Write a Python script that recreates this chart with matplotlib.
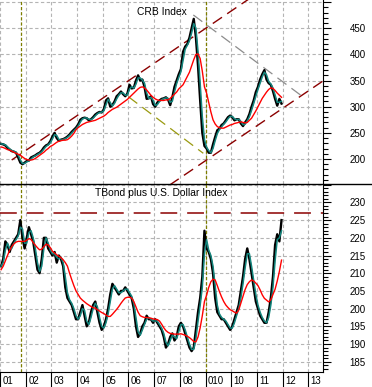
import numpy as np
import pandas as pd
import matplotlib
matplotlib.use("Agg")
import matplotlib.pyplot as plt
import matplotlib.transforms as mtransforms
from matplotlib.lines import Line2D
from matplotlib.ticker import MultipleLocator, FuncFormatter

plt.rcParams['font.family'] = ['Liberation Sans', 'DejaVu Sans']

# monthly values, Jan 2001 .. Dec 2011
start_year = 2001
crb_close = [
    229, 228, 226, 221, 218, 215, 214, 212, 203, 193, 190, 193,
    196, 197, 203, 205, 207, 210, 212, 216, 222, 226, 228, 234,
    243, 250, 240, 235, 237, 238, 240, 243, 247, 252, 256, 260,
    266, 275, 278, 279, 278, 274, 276, 280, 285, 288, 290, 289,
    295, 312, 316, 300, 303, 310, 320, 324, 329, 324, 320, 325,
    342, 335, 336, 350, 360, 350, 352, 338, 315, 316, 320, 305,
    300, 308, 312, 315, 316, 318, 314, 303, 318, 338, 350, 362,
    372, 405, 415, 420, 432, 450, 468, 433, 378, 312, 250, 225,
    220, 212, 212, 228, 242, 255, 258, 265, 268, 274, 280, 283,
    280, 274, 276, 276, 268, 263, 270, 276, 286, 300, 312, 328,
    338, 352, 362, 370, 352, 345, 342, 330, 315, 302, 315, 306,
]
crb_red = [
    223, 222, 220, 218, 217, 215, 213, 211, 209, 207, 204, 201,
    199, 198, 198, 199, 201, 204, 207, 210, 213, 217, 220, 224,
    226, 229, 232, 234, 235, 236, 236, 237, 240, 244, 249, 256,
    260, 263, 266, 268, 270, 271, 272, 273, 274, 276, 278, 280,
    282, 285, 289, 292, 295, 297, 299, 302, 305, 308, 311, 314,
    318, 322, 326, 330, 334, 337, 338, 336, 332, 327, 322, 318,
    315, 313, 312, 312, 312, 313, 313, 316, 320, 324, 328, 334,
    338, 342, 350, 358, 366, 378, 390, 400, 401, 392, 368, 338,
    326, 308, 290, 275, 267, 262, 260, 259, 259, 261, 263, 265,
    266, 268, 269, 270, 271, 270, 269, 270, 274, 278, 285, 292,
    300, 308, 316, 322, 328, 333, 336, 335, 331, 326, 322, 318,
]
tb_close = [
    212, 214, 219, 218, 216, 218, 219, 220, 221, 225, 220, 217,
    220, 223, 221, 219, 215, 211, 210, 214, 220, 220, 217, 216,
    215, 216, 213, 215, 214, 212, 206, 203, 202, 201, 199, 197,
    197, 199, 201, 198, 195, 196, 199, 201, 202, 199, 196, 194,
    195, 197, 200, 204, 207, 206, 205, 204, 205, 205, 206, 205,
    204, 203, 200, 195, 192, 193, 195, 196, 198, 197, 197, 196,
    197, 196, 195, 194, 192, 189, 190, 192, 193, 191, 192, 195,
    196, 195, 193, 191, 189, 188, 189, 194, 199, 203, 209, 222,
    217, 216, 214, 210, 203, 199, 198, 197, 197, 196, 195, 194,
    195, 197, 199, 201, 205, 209, 214, 217, 214, 210, 206, 202,
    200, 198, 197, 196, 196, 199, 203, 209, 218, 221, 219, 225,
]
tb_red = [
    211.0, 212.0, 213.5, 215.0, 216.5, 217.5, 218.3, 218.8, 219.0, 219.0, 219.0, 219.0,
    219.3, 219.8, 219.5, 218.7, 217.9, 217.2, 216.6, 216.8, 217.5, 218.2, 218.0, 217.2,
    216.2, 215.7, 215.2, 214.8, 214.4, 213.8, 213.0, 212.0, 210.0, 208.2, 206.5, 205.0,
    204.0, 203.0, 202.4, 201.9, 201.4, 201.0, 200.6, 200.3, 200.1, 199.7, 199.3, 198.9,
    198.6, 198.2, 197.8, 197.8, 198.4, 199.1, 199.8, 200.6, 201.5, 202.3, 203.0, 203.2,
    203.2, 203.0, 202.0, 200.5, 199.0, 198.0, 197.7, 197.5, 197.5, 197.4, 197.3, 197.1,
    197.0, 196.9, 196.5, 195.6, 194.6, 193.8, 193.3, 193.0, 192.9, 192.8, 192.8, 192.8,
    192.9, 192.7, 192.5, 192.2, 191.8, 191.3, 190.7, 190.6, 192.0, 194.6, 198.0, 202.0,
    203.8, 206.0, 207.6, 208.3, 208.1, 206.5, 204.8, 203.3, 202.0, 201.0, 200.3, 199.7,
    199.4, 199.0, 198.7, 199.6, 201.5, 203.5, 205.4, 206.8, 207.6, 208.1, 207.8, 207.2,
    206.5, 205.3, 203.9, 202.9, 202.4, 201.9, 202.5, 204.0, 205.5, 207.8, 210.5, 213.7,
]
years = list(range(2001, 2014))
year_labels = ['01', '02', '03', '04', '05', '06', '07', '08', '010', '10', '11', '12', '13']

# trend lines drawn on the chart (year, value)
crb_upper_x, crb_upper_y = [2001.455, 2010.70], [198.1, 506.4]
crb_lower_x, crb_lower_y = [2007.60, 2013.58], [150.1, 349.5]
crb_gray_x, crb_gray_y = [2008.524, 2012.783], [475.5, 319.2]
crb_olive_x, crb_olive_y = [2005.994, 2008.914], [319.2, 210.9]
tb_resistance = 227.0
event_dates = [2001.83, 2009.0]

months = start_year + (np.arange(len(crb_close)) + 0.5) / 12
crb_teal = pd.Series(crb_close).rolling(2, min_periods=1).mean()
tb_teal = pd.Series(tb_close).rolling(2, min_periods=1).mean()

W, H = 372, 387
fig = plt.figure(figsize=(W / 100, H / 100), dpi=100)
ax_w = 323.3 / W
ax1 = fig.add_axes([0, 1 - 184 / H, ax_w, 184 / H])
ax2 = fig.add_axes([0, 1 - 372 / H, ax_w, 188 / H])

grid_kw = dict(color='#b4b4b4', lw=0.8, ls=(0, (3, 2.2)))
dark_red = '#8b0000'
olive = '#7d7d00'

for ax in (ax1, ax2):
    ax.set_xlim(2001.0, 2001 + 323.3 / 25.69)
    ax.set_xticks(years)
    ax.grid(True, which='major', **grid_kw)
    ax.set_axisbelow(True)
    for s in ('left', 'top'):
        ax.spines[s].set_visible(False)
    ax.yaxis.tick_right()
    ax.tick_params(axis='y', which='major', direction='out', length=5.8, width=0.8,
                   pad=13, labelsize=7)
    ax.tick_params(axis='y', which='minor', direction='out', length=3.6, width=0.8)
    for d in event_dates:
        ax.axvline(d, color=olive, lw=0.9, ls=(0, (2.6, 1.5)), zorder=1.5)

# top panel: CRB Index
ax1.set_ylim(152.2, 504.1)
ax1.yaxis.set_major_locator(MultipleLocator(50))
ax1.yaxis.set_minor_locator(MultipleLocator(10))
ax1.yaxis.set_major_formatter(FuncFormatter(lambda v, p: f"{v:.0f}" if 200 <= v <= 450 else ""))
ax1.tick_params(axis='x', length=0, labelbottom=False)
ax1.spines['bottom'].set_visible(False)

ax1.plot(crb_upper_x, crb_upper_y, color=dark_red, lw=1, ls=(0, (8, 4.5)), clip_on=True)
ax1.plot(crb_lower_x, crb_lower_y, color=dark_red, lw=1, ls=(0, (8, 4.5)), clip_on=True)
ax1.plot(crb_gray_x, crb_gray_y, color='#8c8c8c', lw=0.9, ls=(0, (9, 5)))
ax1.plot(crb_olive_x, crb_olive_y, color='#9a9a10', lw=0.9, ls=(0, (9, 5)))
ax1.plot(months, crb_close, color='black', lw=1.7)
ax1.plot(months, crb_teal, color='#14867e', lw=1.1)
ax1.plot(months, crb_red, color='#ff0000', lw=1.0)
ax1.text(0.5, 0.937, 'CRB Index', transform=ax1.transAxes, ha='center', va='center',
         fontsize=7.4)

# bottom panel: TBond plus U.S. Dollar Index
ax2.set_ylim(182.1, 235.2)
ax2.yaxis.set_major_locator(MultipleLocator(5))
ax2.yaxis.set_minor_locator(MultipleLocator(1))
ax2.yaxis.set_major_formatter(FuncFormatter(lambda v, p: f"{v:.0f}" if 185 <= v <= 230 else ""))
ax2.tick_params(axis='x', direction='out', length=10.8, width=0.8, labelbottom=False)

ax2.axhline(tb_resistance, color=dark_red, lw=1.1, ls=(0, (11, 6.5)))
ax2.plot(months, tb_close, color='black', lw=1.7)
ax2.plot(months, tb_teal, color='#14867e', lw=1.1)
ax2.plot(months, tb_red, color='#ff0000', lw=1.0)
ax2.text(0.5, 0.952, 'TBond plus U.S. Dollar Index', transform=ax2.transAxes,
         ha='center', va='center', fontsize=7.4)

base = mtransforms.blended_transform_factory(ax2.transData, ax2.transAxes)
lab_trans = mtransforms.offset_copy(base, fig=fig, x=2.5, y=-8.5, units='dots')
for yr, lab in zip(years, year_labels):
    ax2.text(yr, 0, lab, transform=lab_trans, ha='left', va='center', fontsize=7,
             clip_on=False)

sep_y = 1 - 184 / H
fig.add_artist(Line2D([0, 1], [sep_y, sep_y], color='black', lw=1,
                      transform=fig.transFigure))

fig.savefig('out.png', dpi=100)
